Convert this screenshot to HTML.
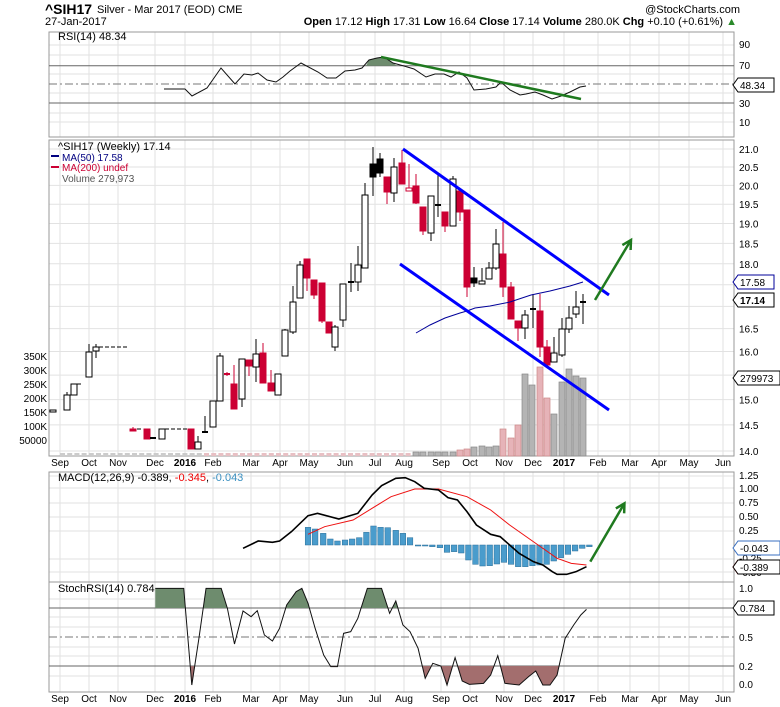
<!DOCTYPE html>
<html><head><meta charset="utf-8"><style>
body{margin:0;background:#fff;width:780px;height:707px;overflow:hidden}
svg{display:block;font-family:"Liberation Sans Narrow","Liberation Sans",sans-serif}
</style></head><body>
<svg id="s" width="780" height="707" viewBox="0 0 780 707" xmlns="http://www.w3.org/2000/svg" font-size="11">
<rect width="780" height="707" fill="#fff"/>
<g id="grid" stroke="#e2e2e2" stroke-width="1"></g>
<g id="draw"></g>
<!-- header text -->
<text x="45" y="14" font-size="14" font-weight="bold" font-family="Liberation Sans Narrow, Liberation Sans, sans-serif">^SIH17</text>
<text x="97" y="13" font-size="11">Silver - Mar 2017 (EOD) CME</text>
<text x="740" y="13" font-size="11" text-anchor="end">@StockCharts.com</text>
<text x="45" y="25" font-size="11">27-Jan-2017</text>
<text x="737" y="25" font-size="11" text-anchor="end"><tspan font-weight="bold">Open</tspan> 17.12 <tspan font-weight="bold">High</tspan> 17.31 <tspan font-weight="bold">Low</tspan> 16.64 <tspan font-weight="bold">Close</tspan> 17.14 <tspan font-weight="bold">Volume</tspan> 280.0K <tspan font-weight="bold">Chg</tspan> +0.10 (+0.61%) <tspan fill="#2a8a2a">▲</tspan></text>
<!-- RSI labels -->
<text x="58" y="40" font-size="11" font-family="Liberation Sans, sans-serif">RSI(14) 48.34</text>
<g font-size="10" font-family="Liberation Sans, sans-serif">
<text x="739" y="48">90</text><text x="739" y="69">70</text><text x="739" y="107">30</text><text x="739" y="126">10</text>
</g>
<!-- main labels -->
<g font-size="11" font-family="Liberation Sans, sans-serif">
<text x="58" y="150">^SIH17 (Weekly) 17.14</text>
<text x="62" y="161" fill="#000080" font-size="10">MA(50) 17.58</text>
<text x="62" y="171" fill="#cc0033" font-size="10">MA(200) undef</text>
<text x="62" y="182" fill="#555" font-size="10">Volume 279,973</text>
</g>
<rect x="51" y="155" width="8" height="2" fill="#000080"/>
<rect x="51" y="166" width="8" height="2" fill="#cc0033"/>
<g id="plab" font-size="10" font-family="Liberation Sans, sans-serif"></g>
<g font-size="10" font-family="Liberation Sans, sans-serif" text-anchor="end">
<text x="47" y="360">350K</text><text x="47" y="374">300K</text><text x="47" y="388">250K</text><text x="47" y="402">200K</text><text x="47" y="416">150K</text><text x="47" y="430">100K</text><text x="47" y="444">50000</text>
</g>
<!-- MACD labels -->
<text x="58" y="481" font-size="11" font-family="Liberation Sans, sans-serif">MACD(12,26,9) -0.389, <tspan fill="#e00">-0.345</tspan>, <tspan fill="#3a8fc0">-0.043</tspan></text>
<g font-size="10" font-family="Liberation Sans, sans-serif">
<text x="739" y="479">1.25</text><text x="739" y="492">1.00</text><text x="739" y="506">0.75</text><text x="739" y="520">0.50</text><text x="739" y="534">0.25</text><text x="739" y="562">-0.25</text><text x="739" y="576">-0.50</text>
</g>
<!-- Stoch labels -->
<text x="58" y="592" font-size="11" font-family="Liberation Sans, sans-serif">StochRSI(14) 0.784</text>
<g font-size="10" font-family="Liberation Sans, sans-serif">
<text x="739" y="592">1.0</text><text x="739" y="641">0.5</text><text x="739" y="670">0.2</text><text x="739" y="688">0.0</text>
</g>
<g id="xl" font-size="10" font-family="Liberation Sans, sans-serif" text-anchor="middle"></g>
<g id="boxes" font-size="10" font-family="Liberation Sans, sans-serif"></g>
</svg>
<script>
const NS="http://www.w3.org/2000/svg";
function el(p,t,a,txt){const e=document.createElementNS(NS,t);for(const k in a)e.setAttribute(k,a[k]);if(txt!=null)e.textContent=txt;document.getElementById(p).appendChild(e);return e;}
const L=49,R=734;
const panels=[[32,137],[140,456],[472,582],[582,692]];
const months=[[60,"Sep"],[89,"Oct"],[118,"Nov"],[155,"Dec"],[185,"2016",1],[213,"Feb"],[251,"Mar"],[280,"Apr"],[309,"May"],[345,"Jun"],[375,"Jul"],[404,"Aug"],[441,"Sep"],[470,"Oct"],[504,"Nov"],[533,"Dec"],[564,"2017",1],[598,"Feb"],[630,"Mar"],[659,"Apr"],[689,"May"],[723,"Jun"]];
// vertical grid
panels.forEach(p=>months.forEach(m=>el("grid","line",{x1:m[0],x2:m[0],y1:p[0],y2:p[1]})));
// horizontal grids
const py=p=>149+744.8*Math.log(21/p);
for(let v=14;v<=21.01;v+=0.5){el("grid","line",{x1:L,x2:R,y1:py(v),y2:py(v)});if(Math.abs(v-17.5)>0.01&&Math.abs(v-17)>0.01&&Math.abs(v-15.5)>0.01)el("plab","text",{x:739,y:py(v)+4},v.toFixed(1));}
[45,55,74,93,113,122].forEach(y=>el("grid","line",{x1:L,x2:R,y1:y,y2:y}));
[476,488,503,517,531,559,572].forEach(y=>el("grid","line",{x1:L,x2:R,y1:y,y2:y}));
[599,617,627,647,656,676].forEach(y=>el("grid","line",{x1:L,x2:R,y1:y,y2:y}));
// panel borders
panels.forEach(p=>el("draw","rect",{x:L,y:p[0],width:R-L,height:p[1]-p[0],fill:"none",stroke:"#999"}));
// month labels
months.forEach(m=>{el("xl","text",{x:m[0],y:466,"font-weight":m[2]?"bold":"normal"},m[1]);el("xl","text",{x:m[0],y:702,"font-weight":m[2]?"bold":"normal"},m[1]);});
// RSI
el("draw","line",{x1:L,x2:R,y1:65.7,y2:65.7,stroke:"#666"});
el("draw","line",{x1:L,x2:R,y1:103,y2:103,stroke:"#666"});
el("draw","line",{x1:L,x2:R,y1:84,y2:84,stroke:"#777","stroke-dasharray":"8,3,2,3"});
const rsi=[[164,89],[185,89],[192,96],[207,88],[221,68],[235,84],[244,74],[252,75],[258,73],[267,80],[276,82],[283,77],[290,71],[301,63],[318,72],[327,78],[336,78],[345,71],[355,70],[362,68],[369,60],[377,58],[384,57],[393,63],[404,66],[414,69],[426,77],[435,74],[444,74],[451,77],[459,72],[467,78],[474,90],[486,89],[496,87],[501,82],[510,90],[520,95],[526,94],[535,92],[543,95],[552,99],[561,96],[570,92],[580,87],[586,86]];
el("draw","polygon",{points:"366,65.7 369,60 377,58 384,57 393,63 397,65.7",fill:"#6e8c6e"});
el("draw","polyline",{points:rsi.map(p=>p.join(",")).join(" "),fill:"none",stroke:"#111","stroke-width":1});
el("draw","line",{x1:381,y1:57,x2:581,y2:99,stroke:"#1f7a1f","stroke-width":2.5});
// volume
const vol=[[474,447],[482,446],[489,447],[496,446],[467,449,1],[460,450,1],[453,452],[445,452],[438,452],[431,452],[423,452],[416,452],[503,429,1],[511,438,1],[518,425,1],[525,374],[532,385],[540,367,1],[547,398,1],[554,414],[562,382],[569,369],[576,376],[583,378]];
vol.forEach(v=>el("draw","rect",{x:v[0]-3,y:v[1],width:6,height:456-v[1],fill:v[2]?"#e6b3b8":"#b4b4b4",stroke:v[2]?"#c88":"#888","stroke-width":0.7}));
for(let x=60;x<410;x+=7.2)el("draw","rect",{x:x,y:453,width:5,height:3,fill:(x>200?"#e8c0c4":"#ccc")});
// candles [x, top, bottom, hi, lo, type]
const C=[[53,410,412,410,412,"h"],[67,395,410,392,410,"h"],[74,384,395,384,395,"h"],[89,352,377,344,377,"h"],[96,347,351,344,358,"h"],
[133,429,430,427,430,"r"],[147,429,439,429,439,"r"],[153,438,438,438,438,"d"],[162,429,439,429,439,"h"],[191,429,449,429,449,"r"],[198,442,449,436,449,"h"],[205,432,432,416,432,"d"],[213,401,427,401,427,"h"],[220,356,401,353,401,"h"],[227,374,374,372,376,"rd"],[234,384,409,365,409,"r"],[242,359,399,359,407,"h"],[249,360,366,360,376,"r"],[256,354,367,339,382,"h"],[263,353,383,343,383,"r"],[271,383,391,370,391,"r"],[278,374,395,374,395,"h"],[285,330,356,329,356,"h"],[293,302,332,286,334,"h"],[300,265,298,261,298,"h"],[307,259,278,259,291,"r"],[314,280,295,280,299,"r"],[322,283,321,283,323,"r"],[329,322,333,322,333,"r"],[335,327,347,325,351,"h"],[343,284,320,284,327,"h"],[351,282,282,263,292,"d"],[358,265,282,246,291,"h"],[365,195,268,183,268,"h"],[373,164,177,147,196,"b"],[380,159,173,153,177,"b"],[387,177,192,177,204,"r"],[394,167,193,158,202,"h"],[402,163,184,150,184,"r"],[409,188,191,164,191,"rh"],[416,186,203,174,204,"r"],
[423,207,231,207,235,"r"],[431,196,233,199,241,"h"],[438,205,205,175,217,"d"],[445,212,226,212,232,"r"],[453,179,226,176,226,"h"],[460,191,212,191,221,"r"],[467,210,287,210,297,"r"],[474,278,283,267,287,"b"],[482,281,284,268,284,"h"],[489,268,279,262,279,"h"],[496,244,268,229,270,"h"],[503,254,287,222,297,"r"],[511,287,319,282,319,"r"],[518,321,328,321,341,"r"],[525,315,328,310,339,"h"],[533,309,309,294,328,"d"],[540,311,347,294,357,"r"],[547,347,365,340,365,"r"],[554,353,362,337,362,"h"],[562,329,355,318,357,"h"],[569,318,329,306,333,"h"],[576,307,314,291,318,"h"],[583,302,302,294,324,"d"]];
C.forEach(c=>{const[x,t,b,h,l,ty]=c;const red=ty[0]=="r";const col=red?"#cc0033":"#000";
el("draw","line",{x1:x,x2:x,y1:Math.min(h,t),y2:Math.max(l,b),stroke:col,"stroke-width":1});
if(ty=="d"||ty=="rd"){el("draw","line",{x1:x-3,x2:x+3,y1:t,y2:t,stroke:col,"stroke-width":2});return;}
const fill=(ty=="h"||ty=="rh")?"#fff":col;
el("draw","rect",{x:x-3,y:t,width:6,height:Math.max(b-t,2),fill:fill,stroke:col,"stroke-width":1});});
// dashed flat lines
[[77,384,83],[99,347,128],[137,429,143],[165,429,187]].forEach(d=>el("draw","line",{x1:d[0],x2:d[2],y1:d[1],y2:d[1],stroke:"#000","stroke-dasharray":"4,2"}));
// MA50
el("draw","polyline",{points:"416,333 430,325 445,318 460,313 467,311 475,308 490,306 510,302 531,295 550,291 570,286 583,282",fill:"none",stroke:"#000099","stroke-width":1});
// channel
el("draw","line",{x1:403,y1:149,x2:609,y2:295,stroke:"#0000ff","stroke-width":3});
el("draw","line",{x1:400,y1:264,x2:609,y2:410,stroke:"#0000ff","stroke-width":3});
// green arrows
function arrow(x1,y1,x2,y2){el("draw","line",{x1:x1,y1:y1,x2:x2,y2:y2,stroke:"#1f7a1f","stroke-width":2.5});const a=Math.atan2(y2-y1,x2-x1);const s=10;
el("draw","polyline",{points:`${x2-s*Math.cos(a-0.5)},${y2-s*Math.sin(a-0.5)} ${x2},${y2} ${x2-s*Math.cos(a+0.5)},${y2-s*Math.sin(a+0.5)}`,fill:"none",stroke:"#1f7a1f","stroke-width":2.5});}
arrow(595,300,631,240);
// MACD
const zx=v=>40+v/2.108, zy=v=>465+v/3;
const hist=[[565,187],[580,192],[597,205],[612,222],[627,228],[643,225],[658,222],[673,218],[688,202],[703,183],[718,187],[733,188],[750,196],[765,205],[780,218],[797,241],[812,242],[827,245],[843,248],[858,262],[873,260],[888,264],[903,285],[918,298],[933,303],[948,302],[963,297],[978,292],[993,298],[1008,305],[1023,305],[1038,302],[1053,300],[1068,298],[1083,288],[1098,278],[1113,268],[1128,258],[1143,250],[1158,245]];
hist.forEach(h=>{const y=zy(h[1]),y0=545;el("draw","rect",{x:zx(h[0])-2.8,y:Math.min(y,y0),width:5.6,height:Math.max(Math.abs(y-y0),1),fill:"#4a9ccc",stroke:"#2a6f99","stroke-width":0.5});});
const mb=[[428,250],[460,228],[490,232],[505,228],[530,200],[565,152],[585,145],[630,162],[670,145],[700,90],[720,62],[750,40],[770,38],[790,50],[810,70],[840,75],[860,98],[880,105],[900,140],[920,180],[950,208],[970,215],[990,240],[1010,265],[1040,290],[1060,300],[1080,320],[1090,328],[1110,328],[1130,320],[1152,305]];
const mr=[[565,208],[600,185],[660,165],[700,130],[740,95],[790,72],[840,72],[900,95],[950,135],[990,180],[1050,240],[1090,280],[1120,295],[1152,300]];
el("draw","polyline",{points:mr.map(p=>zx(p[0])+","+zy(p[1])).join(" "),fill:"none",stroke:"#ee1111","stroke-width":1});
el("draw","polyline",{points:mb.map(p=>zx(p[0])+","+zy(p[1])).join(" "),fill:"none",stroke:"#000","stroke-width":1.6});
arrow(zx(1160),zy(290),zx(1232),zy(115));
// Stoch
el("draw","line",{x1:L,x2:R,y1:608,y2:608,stroke:"#666"});
el("draw","line",{x1:L,x2:R,y1:666,y2:666,stroke:"#666"});
el("draw","line",{x1:L,x2:R,y1:637,y2:637,stroke:"#777","stroke-dasharray":"8,3,2,3"});
const st=[[243,370],[303,370],[320,660],[335,520],[350,370],[382,370],[395,430],[410,537],[428,438],[445,455],[458,437],[473,510],[490,528],[505,490],[520,420],[540,380],[552,370],[565,415],[580,490],[598,570],[613,605],[627,605],[640,505],[655,500],[670,460],[690,370],[720,370],[737,445],[750,408],[765,480],[780,500],[797,550],[812,640],[828,595],[845,603],[858,660],[875,578],[890,648],[905,658],[935,655],[950,630],[965,572],[980,655],[1010,660],[1030,635],[1045,618],[1060,660],[1075,660],[1090,630],[1107,520],[1125,480],[1140,450],[1152,433]];
const sp=st.map(p=>[zx(p[0]),zy(p[1])]);
// fills via clip
const defs=el("s","defs",{});
defs.innerHTML='<clipPath id="cu"><rect x="0" y="0" width="780" height="608"/></clipPath><clipPath id="cl"><rect x="0" y="666" width="780" height="40"/></clipPath>';
const pts=sp.map(p=>p.join(",")).join(" ");
el("draw","polygon",{points:`${sp[0][0]},608 ${pts} ${sp[sp.length-1][0]},608`,fill:"#6e8c6e","clip-path":"url(#cu)"});
el("draw","polygon",{points:`${sp[0][0]},666 ${pts} ${sp[sp.length-1][0]},666`,fill:"#a36e6e","clip-path":"url(#cl)"});
el("draw","polyline",{points:pts,fill:"none",stroke:"#111","stroke-width":1});
// value boxes
function box(y,txt,col,bold){const w=txt.length*6+6;el("boxes","polygon",{points:`733,${y} 738,${y-7} ${738+w},${y-7} ${738+w},${y+7} 738,${y+7}`,fill:"#fff",stroke:col});el("boxes","text",{x:740,y:y+4,"font-weight":bold?"bold":"normal"},txt);}
box(85,"48.34","#000");box(282,"17.58","#000099");box(300,"17.14","#000",1);box(378,"279973","#000");
box(567,"-0.389","#e00");box(567,"-0.389","#000");box(548,"-0.043","#3a6fc0");box(608,"0.784","#000");
</script>
</body></html>
